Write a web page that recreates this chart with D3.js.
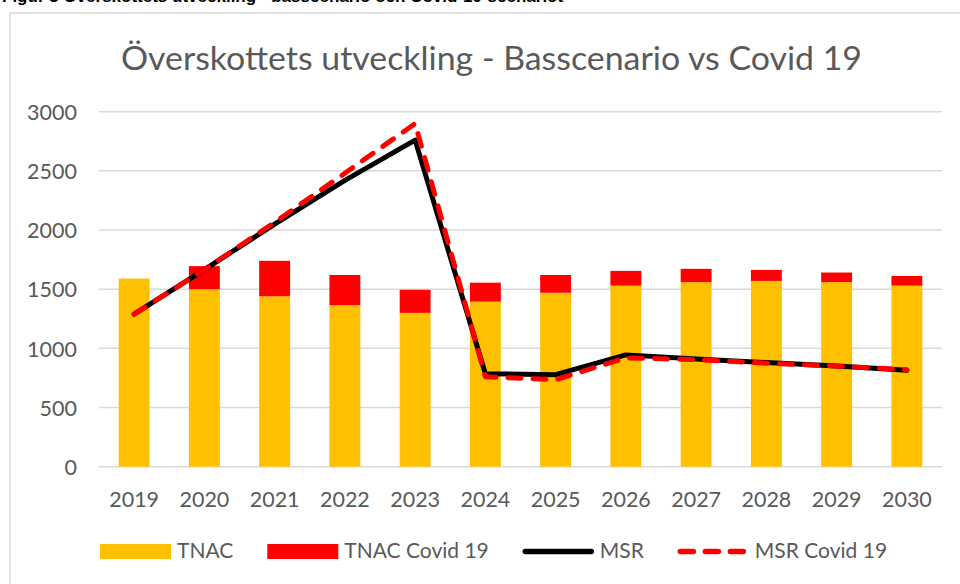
<!DOCTYPE html>
<html>
<head>
<meta charset="utf-8">
<script src="https://cdn.jsdelivr.net/npm/d3@7"></script>
<style>
  html, body { margin: 0; padding: 0; background: #fff; }
  svg text { font-family: Lato, "Open Sans", sans-serif; fill: #595959; }
</style>
</head>
<body>
<svg id="chart" width="960" height="584"></svg>
<script>
// values
var years = ["2019", "2020", "2021", "2022", "2023", "2024", "2025", "2026", "2027", "2028", "2029", "2030"]
var tnac = [1590, 1500, 1440, 1365, 1300, 1395, 1470, 1530, 1560, 1570, 1560, 1530]
// extra on top of TNAC in the covid scenario (stacked)
var tnacCovid = [0, 195, 300, 255, 195, 160, 150, 125, 112, 93, 81, 82]
var msr = [1290, 1665, 2050, 2420, 2760, 785, 778, 945, 910, 880, 850, 815]
var msrCovid = [1290, 1665, 2065, 2480, 2900, 760, 735, 920, 905, 875, 850, 820]
var yTicks = [0, 500, 1000, 1500, 2000, 2500, 3000]
var seriesNames = ["TNAC", "TNAC Covid 19", "MSR", "MSR Covid 19"]
var title = "Överskottets utveckling - Basscenario vs Covid 19"
var caption = "Figur 3 Överskottets utveckling - basscenario och Covid-19-scenariot"

var colors = { tnac: "#FFC000", covid: "#FF0000", msr: "#000000", msrCovid: "#FF0000" }

var svg = d3.select("#chart")

// caption of the page above, only its lowest pixels show
svg.append("text")
    .attr("x", 2).attr("y", 1.5)
    .style("font-family", "'Liberation Sans', Arial, sans-serif")
    .style("font-weight", "bold")
    .style("font-size", "17px")
    .style("fill", "#000")
    .text(caption)

// chart frame (runs past the right and bottom edge)
svg.append("rect")
    .attr("x", 10).attr("y", 13)
    .attr("width", 1000).attr("height", 620)
    .attr("fill", "#fff")
    .attr("stroke", "#d9d9d9").attr("stroke-width", 1.5)

svg.append("text")
    .attr("x", 491.5).attr("y", 70)
    .attr("text-anchor", "middle")
    .attr("textLength", 741)
    .attr("lengthAdjust", "spacingAndGlyphs")
    .style("font-size", "32px")
    .text(title)

var x = d3.scaleBand().domain(years).range([99, 942]).paddingInner(0.56).paddingOuter(0.28)
var y = d3.scaleLinear().domain([0, 3000]).range([466.7, 111.7])

// gridlines
svg.append("g")
    .selectAll("line")
    .data(yTicks)
    .enter().append("line")
    .attr("x1", 99).attr("x2", 942)
    .attr("y1", function(d) { return y(d) }).attr("y2", function(d) { return y(d) })
    .attr("stroke", "#d9d9d9").attr("stroke-width", 1.5)

// y axis labels
var yAxis = svg.append("g")
    .attr("transform", "translate(77,0)")
    .call(d3.axisLeft(y).tickValues(yTicks).tickSize(0).tickPadding(0).tickFormat(d3.format("d")))
yAxis.select(".domain").remove()
yAxis.selectAll("text").style("font-size", "21.5px").style("fill", "#595959").attr("dy", "0.36em")

// x axis labels
var xAxis = svg.append("g")
    .attr("transform", "translate(0,466.7)")
    .call(d3.axisBottom(x).tickSize(0).tickPadding(0))
xAxis.select(".domain").remove()
xAxis.selectAll("text").style("font-size", "21.5px").style("fill", "#595959").attr("dy", "1.86em")

// stacked bars
svg.append("g").selectAll("rect")
    .data(years)
    .enter().append("rect")
    .attr("x", function(d) { return x(d) })
    .attr("width", x.bandwidth())
    .attr("y", function(d, i) { return y(tnac[i]) })
    .attr("height", function(d, i) { return y(0) - y(tnac[i]) })
    .attr("fill", colors.tnac)

svg.append("g").selectAll("rect")
    .data(years)
    .enter().append("rect")
    .attr("x", function(d) { return x(d) })
    .attr("width", x.bandwidth())
    .attr("y", function(d, i) { return y(tnac[i] + tnacCovid[i]) })
    .attr("height", function(d, i) { return y(tnac[i]) - y(tnac[i] + tnacCovid[i]) })
    .attr("fill", colors.covid)

function lineOf(values) {
    return d3.line()
        .x(function(d, i) { return x(years[i]) + x.bandwidth() / 2 })
        .y(function(d) { return y(d) })(values)
}

svg.append("path")
    .attr("d", lineOf(msr))
    .attr("fill", "none")
    .attr("stroke", colors.msr).attr("stroke-width", 5)
    .attr("stroke-linejoin", "round").attr("stroke-linecap", "round")

svg.append("path")
    .attr("d", lineOf(msrCovid))
    .attr("fill", "none")
    .attr("stroke", colors.msrCovid).attr("stroke-width", 5)
    .attr("stroke-dasharray", "13,12")
    .attr("stroke-linejoin", "round").attr("stroke-linecap", "round")

// legend
var legend = svg.append("g")
var lx = 100
var ly = 551.5
seriesNames.forEach(function(name, i) {
    if (i == 0 || i == 1) {
        legend.append("rect")
            .attr("x", lx).attr("y", ly - 7.5)
            .attr("width", 71).attr("height", 15)
            .attr("fill", i == 0 ? colors.tnac : colors.covid)
    } else {
        var ln = legend.append("line")
            .attr("x1", lx + 2.5).attr("x2", lx + 68.5)
            .attr("y1", ly).attr("y2", ly)
            .attr("stroke", i == 2 ? colors.msr : colors.msrCovid)
            .attr("stroke-width", 5.5)
            .attr("stroke-linecap", "round")
        if (i == 3) ln.attr("stroke-dasharray", "13,12")
    }
    var t = legend.append("text")
        .attr("x", lx + 77).attr("y", 558)
        .style("font-size", "21px")
        .text(name)
    lx = lx + 77 + t.node().getComputedTextLength() + 34
})
</script>
</body>
</html>
